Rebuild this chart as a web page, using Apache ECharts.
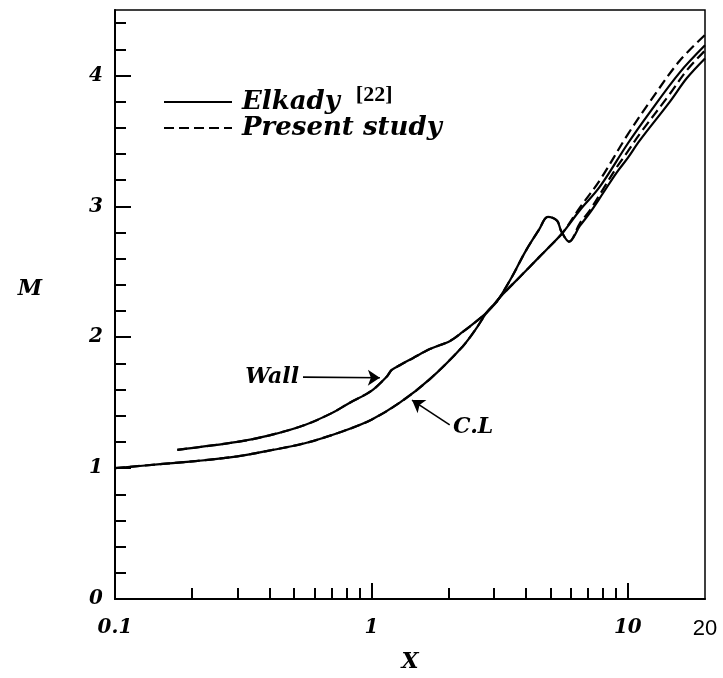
<!DOCTYPE html>
<html><head><meta charset="utf-8">
<script src="https://cdn.jsdelivr.net/npm/echarts@6/dist/echarts.min.js"></script>
<style>html,body{margin:0;padding:0;background:#fff}#c{width:723px;height:678px}</style>
</head><body><div id="c"></div>
<script>
// ---- ticks / labels ----
const xTickLabels = [0.1, 1, 10, 20];
const xMajorTicks = [1, 10];
const xMinorTicks = [0.2, 0.3, 0.4, 0.5, 0.6, 0.7, 0.8, 0.9, 2, 3, 4, 5, 6, 7, 8, 9];
const yTickLabels = [0, 1, 2, 3, 4];
const yMajorTicks = [1, 2, 3, 4];
const yMinorTicks = [0.2, 0.4, 0.6, 0.8, 1.2, 1.4, 1.6, 1.8, 2.2, 2.4, 2.6, 2.8, 3.2, 3.4, 3.6, 3.8, 4.2, 4.4];

// ---- series data [X, M] ----
const elkadyCL = [[0.1,1.0],[0.15,1.03],[0.21,1.055],[0.3,1.09],[0.39,1.13],[0.55,1.19],[0.77,1.28],[1.0,1.37],[1.29,1.50],[1.69,1.68],[2.27,1.93],[2.55,2.06],[2.82,2.19],[3.08,2.27],[3.53,2.46],[4.0,2.66],[4.5,2.82],[4.88,2.92],[5.3,2.89],[5.5,2.81],[5.9,2.73],[6.5,2.85],[7.11,2.95],[8.0,3.10],[9.06,3.26],[10,3.37],[11.1,3.50],[14.6,3.80],[17,3.98],[20,4.13]];
const presentCL = [[0.1,1.0],[0.15,1.03],[0.21,1.055],[0.3,1.09],[0.39,1.13],[0.55,1.19],[0.77,1.28],[1.0,1.37],[1.29,1.50],[1.69,1.68],[2.27,1.93],[2.55,2.06],[2.82,2.19],[3.08,2.27],[3.53,2.46],[4.0,2.66],[4.5,2.82],[4.88,2.92],[5.3,2.89],[5.5,2.81],[5.9,2.73],[6.5,2.87],[7.11,2.97],[8.0,3.13],[9.06,3.30],[10,3.42],[11.1,3.55],[14.6,3.86],[17,4.04],[20,4.19]];
const elkadyWall = [[0.175,1.14],[0.3,1.20],[0.4,1.25],[0.55,1.33],[0.7,1.42],[0.824,1.50],[1.0,1.59],[1.149,1.70],[1.2,1.75],[1.3,1.79],[1.45,1.84],[1.69,1.91],[2.02,1.97],[2.27,2.04],[2.6,2.13],[2.82,2.19],[3.26,2.33],[3.79,2.46],[4.5,2.61],[5.0,2.70],[5.58,2.80],[6.5,2.97],[7.78,3.15],[10,3.48],[12.2,3.72],[15.9,4.02],[20,4.23]];
const presentWall = [[0.175,1.14],[0.3,1.20],[0.4,1.25],[0.55,1.33],[0.7,1.42],[0.824,1.50],[1.0,1.59],[1.149,1.70],[1.2,1.75],[1.3,1.79],[1.45,1.84],[1.69,1.91],[2.02,1.97],[2.27,2.04],[2.6,2.13],[2.82,2.19],[3.26,2.33],[3.79,2.46],[4.5,2.61],[5.0,2.70],[5.58,2.80],[6.5,2.99],[7.78,3.20],[10,3.55],[12.2,3.80],[15.9,4.11],[20,4.31]];

// ---- annotation arrows [start, end] in data coords ----
const wallArrow = [[0.541, 1.695], [1.079, 1.69]];
const clArrow = [[2.02, 1.33], [1.44, 1.52]];

const serifBI = {fontFamily: "'DejaVu Serif', serif", fontWeight: 'bold', fontStyle: 'italic', color: '#000'};

const chart = echarts.init(document.getElementById('c'), null, {renderer: 'canvas'});

function lineSeries(name, data, dashed, arrow, label) {
  const s = {
    name: name, type: 'line', data: data, showSymbol: false, symbol: 'none',
    smooth: 0.35, silent: true,
    lineStyle: {color: '#000', width: 2.2, type: dashed ? [10, 5] : 'solid'},
    itemStyle: {color: '#000'}
  };
  if (arrow) {
    s.markLine = {
      silent: true, symbol: ['none', 'arrow'], symbolSize: 12, animation: false,
      lineStyle: {color: '#000', width: 1.6, type: 'solid'},
      label: Object.assign({show: true, position: 'start', formatter: label, fontSize: 22, distance: 4}, serifBI),
      data: [[{coord: arrow[0]}, {coord: arrow[1]}]]
    };
  }
  return s;
}

chart.setOption({
  animation: false,
  backgroundColor: '#fff',
  grid: {left: 115, right: 18, top: 10, bottom: 76, show: true, borderColor: '#000', borderWidth: 1.5, backgroundColor: 'transparent'},
  legend: {
    orient: 'vertical', left: 158, top: 79, itemWidth: 68, itemHeight: 14, itemGap: -5,
    icon: 'inherit', itemStyle: {opacity: 0},
    data: ['Elkady', 'Present study'],
    formatter: function (n) { return n === 'Elkady' ? '{t|Elkady}{r|[22]}' : '{t|Present study}'; },
    textStyle: {
      padding: [0, 0, 0, 5],
      rich: {
        t: Object.assign({fontSize: 26, lineHeight: 26}, serifBI),
        r: {fontFamily: "'Liberation Serif', serif", fontWeight: 'bold', fontSize: 22, color: '#000', lineHeight: 12, padding: [0, 0, 14, 16]}
      }
    }
  },
  xAxis: [{
    type: 'log', logBase: 10, min: 0.1, max: 20, gridIndex: 0, position: 'bottom',
    name: 'X', nameLocation: 'middle', nameGap: 52,
    nameTextStyle: Object.assign({fontSize: 22}, serifBI),
    axisLine: {show: true, lineStyle: {color: '#000', width: 2}},
    axisTick: {show: true, inside: true, length: 16, customValues: xMajorTicks, lineStyle: {color: '#000', width: 2}},
    axisLabel: {
      show: true, margin: 19, customValues: xTickLabels,
      formatter: function (v) { return Math.abs(v - 20) < 1e-6 ? '{p|20}' : '{b|' + v + '}'; },
      rich: {
        b: Object.assign({fontSize: 20}, serifBI),
        p: {fontFamily: "'Liberation Sans', sans-serif", fontSize: 22, color: '#000'}
      }
    },
    splitLine: {show: false}, minorTick: {show: false}
  }, {
    type: 'log', logBase: 10, min: 0.1, max: 20, gridIndex: 0, position: 'bottom',
    axisLine: {show: false},
    axisTick: {show: true, inside: true, length: 11, customValues: xMinorTicks, lineStyle: {color: '#000', width: 2}},
    axisLabel: {show: false}, splitLine: {show: false}
  }],
  yAxis: [{
    type: 'value', min: 0, max: 4.5, gridIndex: 0, position: 'left',
    name: '{m|M}', nameLocation: 'middle', nameGap: 73, nameRotate: 0,
    nameTextStyle: {rich: {m: Object.assign({fontSize: 22, lineHeight: 24, padding: [0, 0, 30, 0]}, serifBI)}},
    axisLine: {show: true, lineStyle: {color: '#000', width: 2}},
    axisTick: {show: true, inside: true, length: 16, customValues: yMajorTicks, lineStyle: {color: '#000', width: 2}},
    axisLabel: Object.assign({show: true, margin: 12, fontSize: 20, customValues: yTickLabels}, serifBI),
    splitLine: {show: false}
  }, {
    type: 'value', min: 0, max: 4.5, gridIndex: 0, position: 'left',
    axisLine: {show: false},
    axisTick: {show: true, inside: true, length: 11, customValues: yMinorTicks, lineStyle: {color: '#000', width: 2}},
    axisLabel: {show: false}, splitLine: {show: false}
  }],
  series: [
    lineSeries('Elkady', elkadyCL, false, clArrow, 'C.L'),
    lineSeries('Elkady', elkadyWall, false, wallArrow, 'Wall'),
    lineSeries('Present study', presentCL, true),
    lineSeries('Present study', presentWall, true)
  ]
});
</script></body></html>
